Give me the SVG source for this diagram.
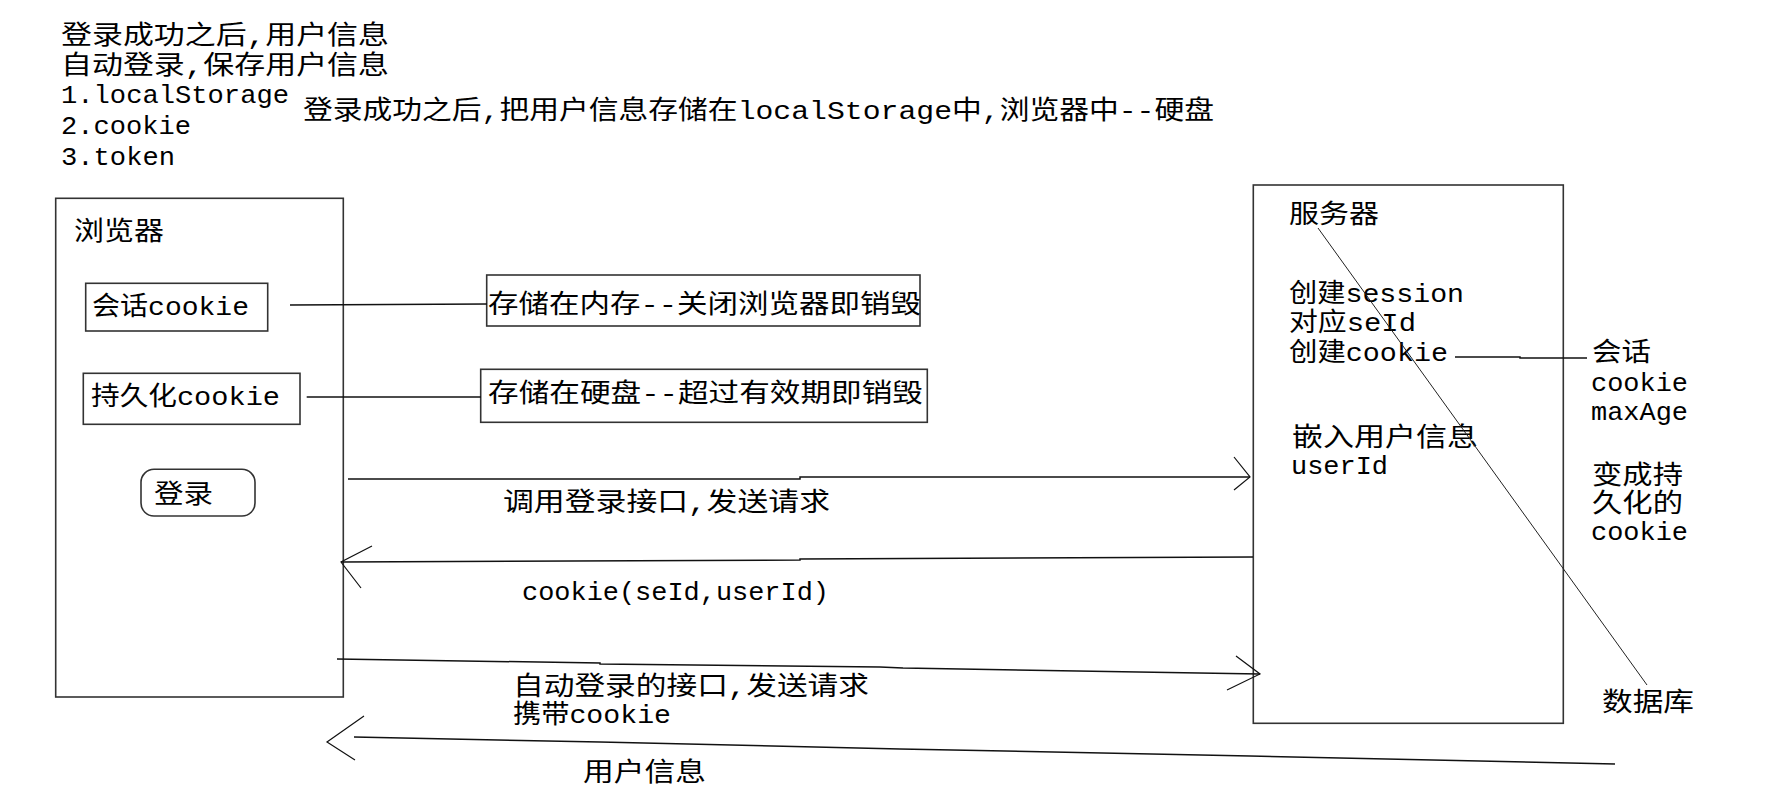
<svg xmlns="http://www.w3.org/2000/svg" width="1769" height="798" viewBox="0 0 1769 798">
<style>
  .t { font-family: "Liberation Mono", "Noto Sans CJK SC", monospace; font-size: 26px; fill: #000; }
  .box { fill: none; stroke: #333; stroke-width: 1.6; }
  .ln { fill: none; stroke: #111; stroke-width: 1.5; }
  .thin { fill: none; stroke: #222; stroke-width: 1; }
  .head { fill: none; stroke: #111; stroke-width: 1.2; }
</style>
<rect width="1769" height="798" fill="#fff"/>

<g id="top-notes">
  <text class="t" x="61" y="44" textLength="328" lengthAdjust="spacingAndGlyphs">登录成功之后,用户信息</text>
  <text class="t" x="61" y="74" textLength="328" lengthAdjust="spacingAndGlyphs">自动登录,保存用户信息</text>
  <text class="t" x="61" y="103" textLength="228" lengthAdjust="spacingAndGlyphs">1.localStorage</text>
  <text class="t" x="61" y="134" textLength="130" lengthAdjust="spacingAndGlyphs">2.cookie</text>
  <text class="t" x="61" y="165" textLength="114" lengthAdjust="spacingAndGlyphs">3.token</text>
  <text class="t" x="303" y="119" textLength="911" lengthAdjust="spacingAndGlyphs">登录成功之后,把用户信息存储在localStorage中,浏览器中--硬盘</text>
</g>

<g id="browser">
  <rect class="box" x="55.7" y="198.3" width="287.6" height="498.7"/>
  <text class="t" x="74" y="240" textLength="90" lengthAdjust="spacingAndGlyphs">浏览器</text>
</g>

<g id="session-cookie">
  <rect class="box" x="85.7" y="283.3" width="182" height="47.7"/>
  <text class="t" x="92" y="315" textLength="157" lengthAdjust="spacingAndGlyphs">会话cookie</text>
</g>

<g id="persistent-cookie">
  <rect class="box" x="83.3" y="373.3" width="216.7" height="51"/>
  <text class="t" x="91" y="405" textLength="189" lengthAdjust="spacingAndGlyphs">持久化cookie</text>
</g>

<g id="login-button">
  <rect class="box" x="141" y="469.3" width="114" height="46.7" rx="13" ry="13"/>
  <text class="t" x="154" y="503" textLength="59" lengthAdjust="spacingAndGlyphs">登录</text>
</g>

<g id="memory-note">
  <rect class="box" x="486.7" y="275" width="433.3" height="51"/>
  <text class="t" x="488" y="313" textLength="433" lengthAdjust="spacingAndGlyphs">存储在内存--关闭浏览器即销毁</text>
</g>

<g id="disk-note">
  <rect class="box" x="480.7" y="369.3" width="446.6" height="53"/>
  <text class="t" x="488" y="402" textLength="435" lengthAdjust="spacingAndGlyphs">存储在硬盘--超过有效期即销毁</text>
</g>

<g id="server">
  <rect class="box" x="1253.3" y="185" width="310" height="538.3"/>
  <text class="t" x="1289" y="223" textLength="90" lengthAdjust="spacingAndGlyphs">服务器</text>
  <text class="t" x="1289" y="302" textLength="175" lengthAdjust="spacingAndGlyphs">创建session</text>
  <text class="t" x="1289" y="331" textLength="127" lengthAdjust="spacingAndGlyphs">对应seId</text>
  <text class="t" x="1289" y="361" textLength="159" lengthAdjust="spacingAndGlyphs">创建cookie</text>
  <text class="t" x="1292" y="446" textLength="186" lengthAdjust="spacingAndGlyphs">嵌入用户信息</text>
  <text class="t" x="1291" y="474" textLength="97" lengthAdjust="spacingAndGlyphs">userId</text>
</g>

<g id="cookie-note">
  <text class="t" x="1592" y="361" textLength="59" lengthAdjust="spacingAndGlyphs">会话</text>
  <text class="t" x="1591" y="391" textLength="97" lengthAdjust="spacingAndGlyphs">cookie</text>
  <text class="t" x="1591" y="420" textLength="97" lengthAdjust="spacingAndGlyphs">maxAge</text>
  <text class="t" x="1592" y="484" textLength="91" lengthAdjust="spacingAndGlyphs">变成持</text>
  <text class="t" x="1592" y="512" textLength="91" lengthAdjust="spacingAndGlyphs">久化的</text>
  <text class="t" x="1591" y="540" textLength="97" lengthAdjust="spacingAndGlyphs">cookie</text>
</g>

<g id="database">
  <text class="t" x="1602" y="711" textLength="92" lengthAdjust="spacingAndGlyphs">数据库</text>
</g>

<g id="connectors">
  <line class="ln" x1="290" y1="305" x2="487" y2="304"/>
  <line class="ln" x1="306.7" y1="397" x2="481" y2="397"/>
  <polyline class="ln" points="1455,357 1520,357 1520,358 1587,358"/>
  <line class="thin" x1="1318" y1="228" x2="1647" y2="685"/>

  <polyline class="ln" points="348,479 800,479 800,477 1250,477"/>
  <polyline class="head" points="1234,457 1250,477 1234,490"/>

  <polyline class="ln" points="1253,557 800,559 800,560 341,562"/>
  <polyline class="head" points="372,546 341,562 361,588"/>

  <polyline class="ln" points="337,659 600,663 600,664 880,667 903,668 1260,674"/>
  <polyline class="head" points="1236,656 1260,674 1227,690"/>

  <polyline class="ln" points="1615,764 1250,756 900,749 600,742 354,737"/>
  <polyline class="head" points="364,716 327,742 355,760"/>

  <text class="t" x="503" y="511" textLength="327" lengthAdjust="spacingAndGlyphs">调用登录接口,发送请求</text>
  <text class="t" x="522" y="600" textLength="307" lengthAdjust="spacingAndGlyphs">cookie(seId,userId)</text>
  <text class="t" x="513" y="695" textLength="356" lengthAdjust="spacingAndGlyphs">自动登录的接口,发送请求</text>
  <text class="t" x="513" y="723" textLength="158" lengthAdjust="spacingAndGlyphs">携带cookie</text>
  <text class="t" x="583" y="781" textLength="123" lengthAdjust="spacingAndGlyphs">用户信息</text>
</g>
</svg>
